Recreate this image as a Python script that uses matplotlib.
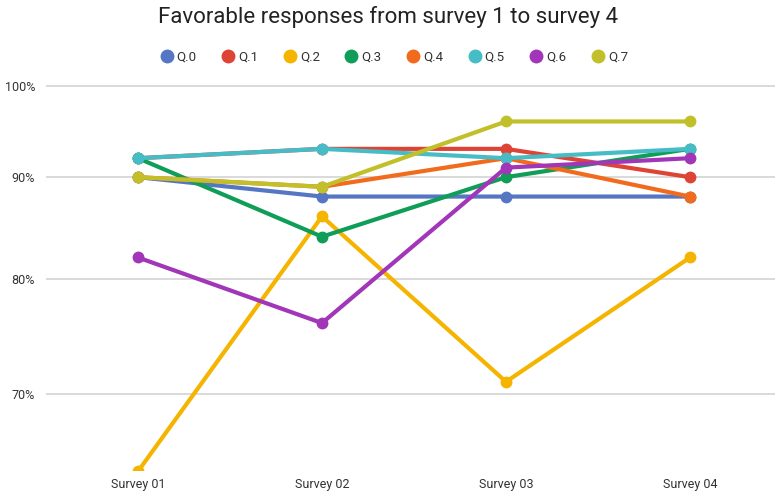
import matplotlib
matplotlib.use("Agg")
import matplotlib.pyplot as plt
from matplotlib.lines import Line2D
from matplotlib.ticker import FixedLocator, NullLocator, FuncFormatter

plt.rcParams['font.family'] = ['Roboto', 'DejaVu Sans']

surveys = ["Survey 01", "Survey 02", "Survey 03", "Survey 04"]
series_names = ["Q.0", "Q.1", "Q.2", "Q.3", "Q.4", "Q.5", "Q.6", "Q.7"]

q0 = [90, 88, 88, 88]
q1 = [92, 93, 93, 90]
q2 = [64, 86, 71, 82]
q3 = [92, 84, 90, 93]
q4 = [90, 89, 92, 88]
q5 = [92, 93, 92, 93]
q6 = [82, 76, 91, 92]
q7 = [90, 89, 96, 96]
series_values = [q0, q1, q2, q3, q4, q5, q6, q7]

colors = ["#5577C3", "#DE4436", "#F4B400", "#0F9D58",
          "#F26B1D", "#46BDC6", "#A136B8", "#C2C02A"]

y_ticks = [70, 80, 90, 100]

fig = plt.figure(figsize=(7.75, 4.93), dpi=100)
ax = fig.add_axes([46 / 775, 23 / 493, 729 / 775, 400 / 493])

x = list(range(len(surveys)))
for name, vals, c in zip(series_names, series_values, colors):
    ax.plot(x, vals, color=c, lw=3.0, marker="o", ms=7.5,
            solid_capstyle="round", solid_joinstyle="round", zorder=3)

ax.set_yscale("log")
ax.set_ylim(64.1, 101.9)
ax.set_xlim(-0.5, 3.462)
ax.yaxis.set_major_locator(FixedLocator(y_ticks))
ax.yaxis.set_minor_locator(NullLocator())
ax.yaxis.set_major_formatter(FuncFormatter(lambda v, p: f"{v:.0f}%"))
ax.set_xticks(x)
ax.set_xticklabels(surveys)

for s in ax.spines.values():
    s.set_visible(False)
ax.tick_params(axis="both", length=0, labelsize=9, colors="#333333")
ax.tick_params(axis="y", pad=8)
ax.tick_params(axis="x", pad=6)
ax.grid(axis="y", color="#d0d0d0", lw=1.1, zorder=0)
ax.set_axisbelow(True)
for lbl in ax.get_yticklabels():
    lbl.set_clip_on(False)

fig.text(0.5, 1 - 17 / 493, "Favorable responses from survey 1 to survey 4",
         ha="center", va="center", fontsize=16, color="#222222")

handles = [Line2D([], [], ls="none", marker="o", ms=9, color=c) for c in colors]
fig.legend(handles, series_names, loc="center", ncol=8,
           bbox_to_anchor=(394 / 775, 1 - 57 / 493), frameon=False,
           fontsize=9.5, handletextpad=0.25, columnspacing=1.9,
           handlelength=1.0, labelcolor="#333333")

fig.savefig("out.png", dpi=100)
